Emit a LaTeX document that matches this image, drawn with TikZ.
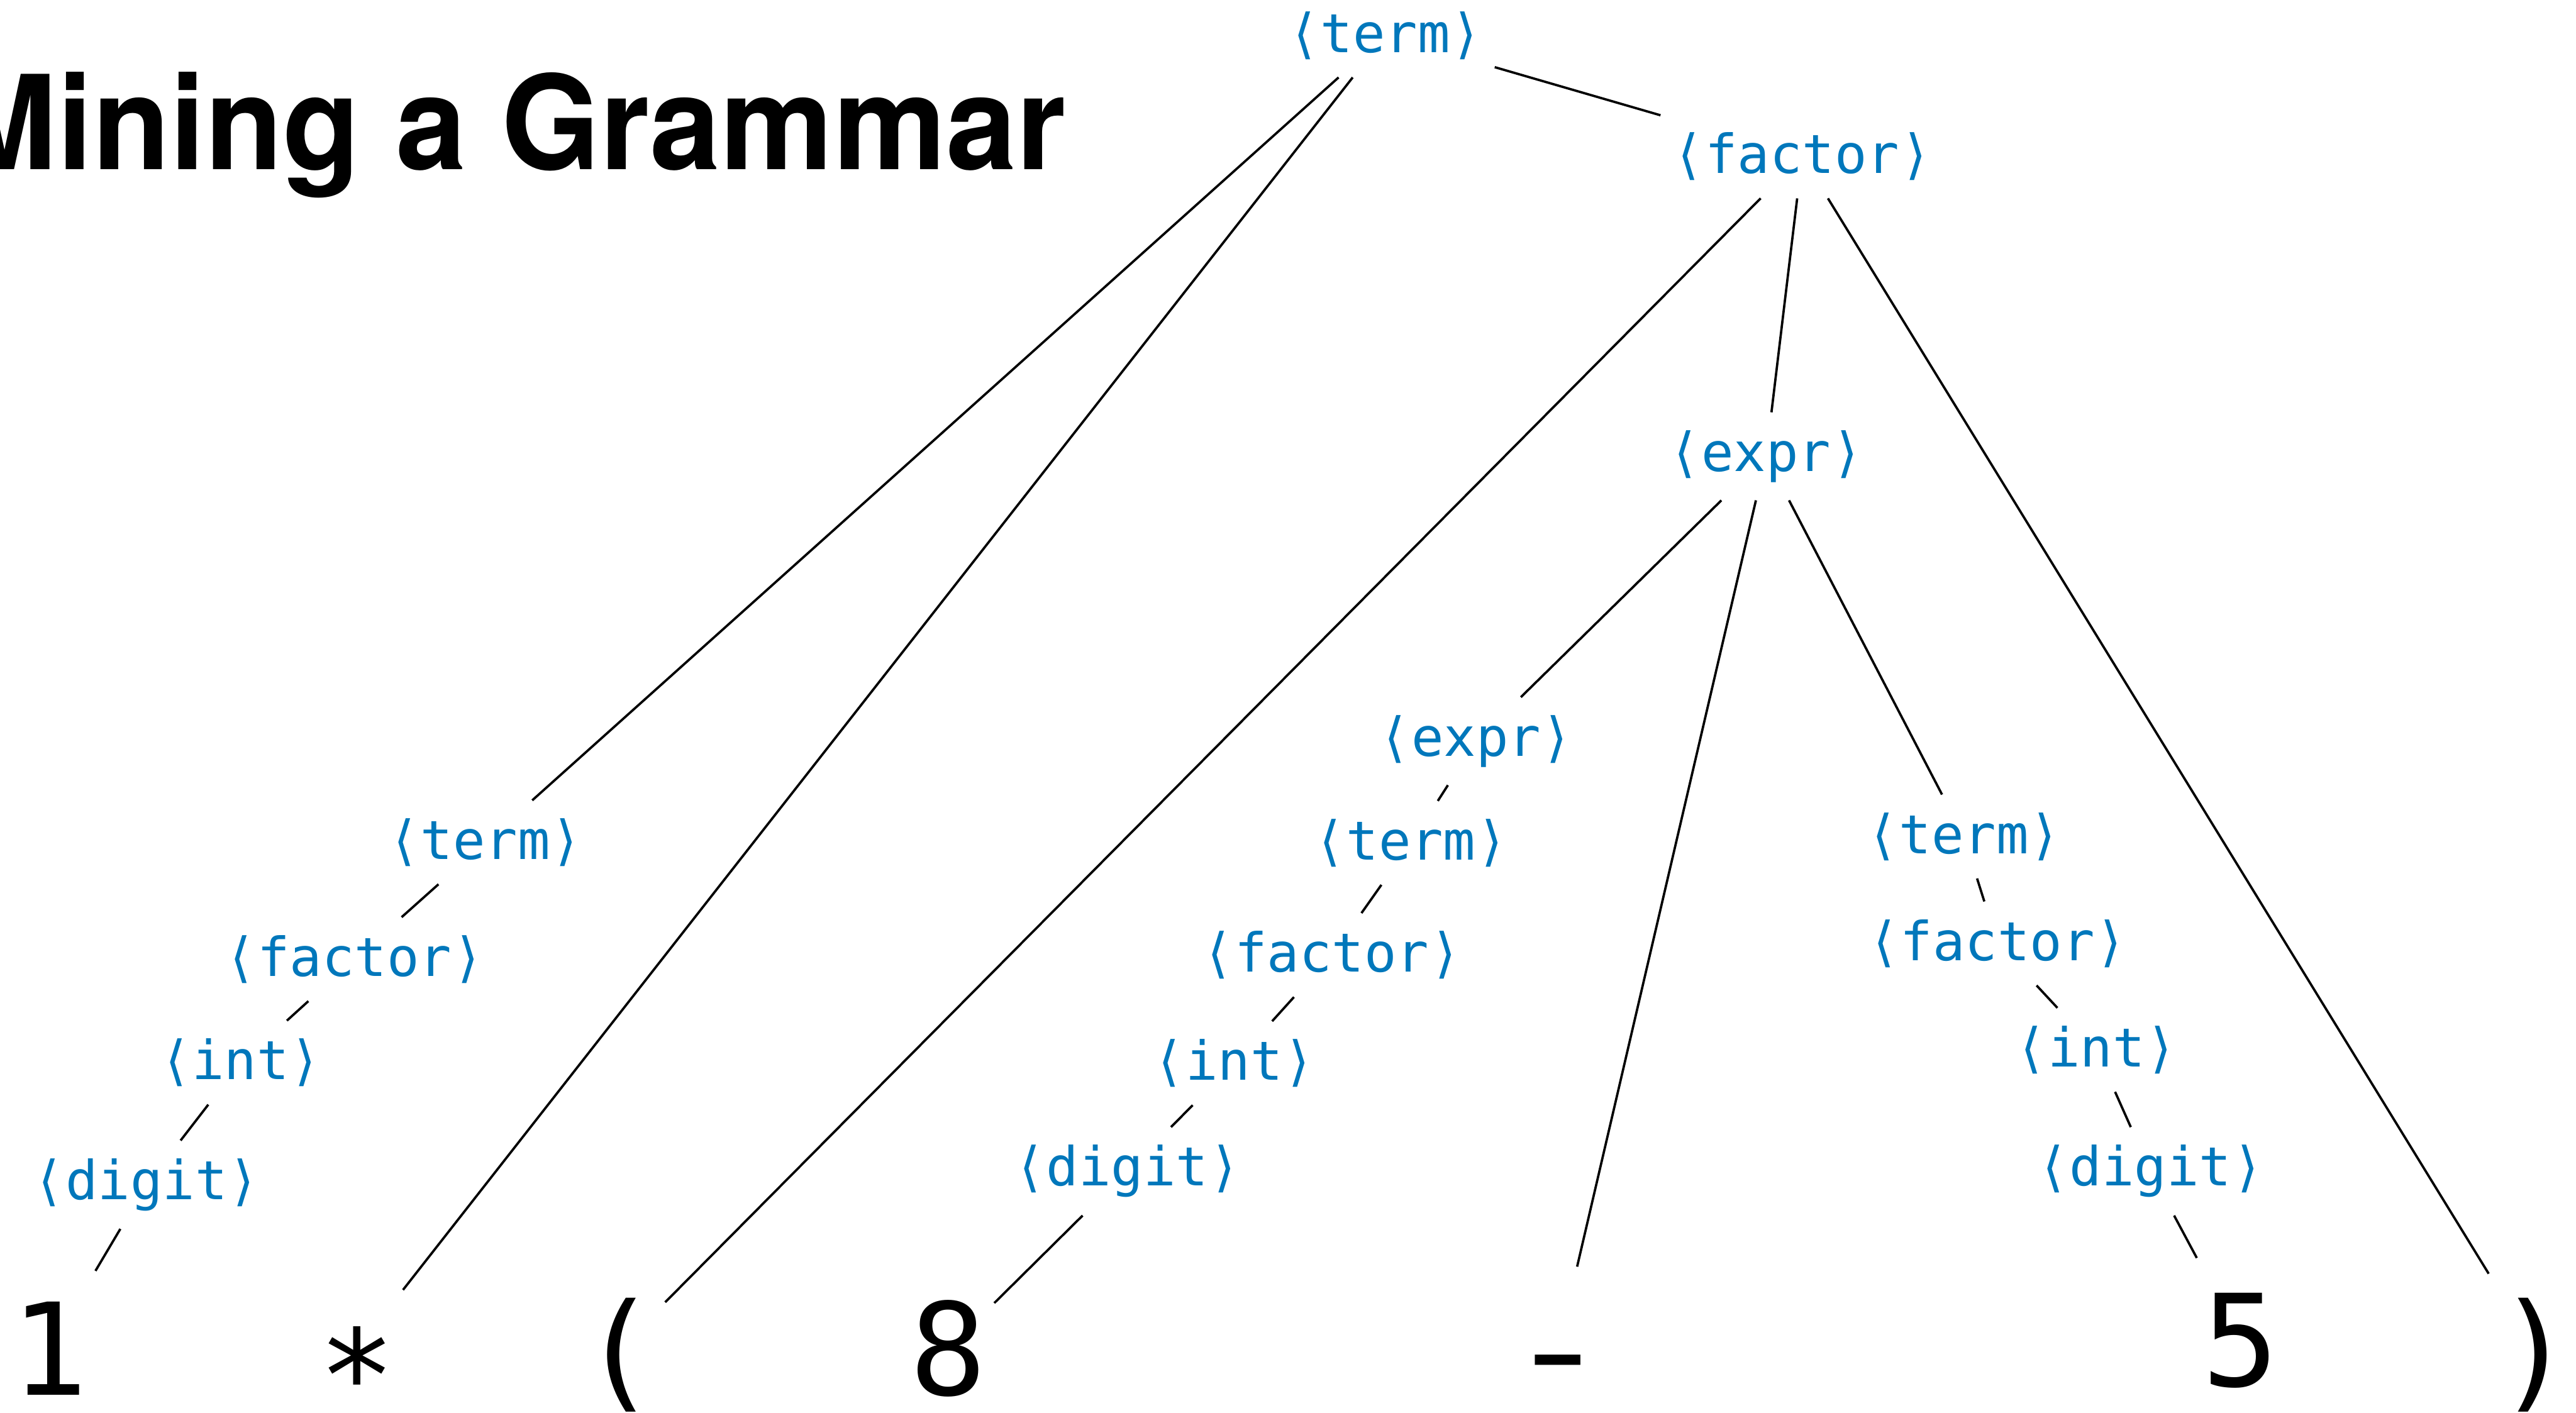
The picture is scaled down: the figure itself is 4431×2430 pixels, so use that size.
\documentclass[tikz,border=0pt]{standalone}
\usepackage{fontspec}
\newfontfamily\monofont{DejaVu Sans Mono}
\newfontfamily\headfont{TeX Gyre Heros}
\definecolor{ntblue}{RGB}{0,119,187}
\newcommand\nonterm[1]{\char"27E8\relax #1\char"27E9\relax}
\tikzset{
  nt/.style={font=\fontsize{18.5}{22}\selectfont\monofont, text=ntblue, inner xsep=4pt, inner ysep=6pt},
  tm/.style={font=\fontsize{44}{50}\selectfont\monofont, text=black, text height=42pt, text depth=10pt, inner xsep=2.4pt, inner ysep=2pt, anchor=base},
  edge/.style={draw=black, line width=0.8pt}
}
\begin{document}
\begin{tikzpicture}[x=0.2pt, y=-0.2pt]
\useasboundingbox (0,0) rectangle (4431,2430);
% title
\node[anchor=base east, inner sep=0pt, font=\fontsize{45}{50}\selectfont\headfont\bfseries] (title) at (1835,291) {\scalebox{0.97}[1]{Mining a Grammar}};
% nonterminals
\node[nt] (t1) at (2383,61) {\nonterm{term}};
\node[nt] (f1) at (3100,269) {\nonterm{factor}};
\node[nt] (e1) at (3038,785) {\nonterm{expr}};
\node[nt] (e2) at (2539,1275) {\nonterm{expr}};
\node[nt] (t2) at (2427,1450) {\nonterm{term}};
\node[nt] (f2) at (2291,1643) {\nonterm{factor}};
\node[nt] (i2) at (2123,1829) {\nonterm{int}};
\node[nt] (d2) at (1939,2015) {\nonterm{digit}};
\node[nt] (t3) at (3378,1439) {\nonterm{term}};
\node[nt] (f3) at (3436,1623) {\nonterm{factor}};
\node[nt] (i3) at (3606,1806) {\nonterm{int}};
\node[nt] (d3) at (3699,2015) {\nonterm{digit}};
\node[nt] (t4) at (835,1449) {\nonterm{term}};
\node[nt] (f4) at (610,1650) {\nonterm{factor}};
\node[nt] (i4) at (414,1828) {\nonterm{int}};
\node[nt] (d4) at (252,2038) {\nonterm{digit}};
% terminals
\node[tm] (one) at (85,2400) {1};
\node[tm] (star) at (614,2400) {\raisebox{-9pt}{*}};
\node[tm] (lp) at (1065,2400) {(};
\node[tm] (eight) at (1631,2400) {8};
\node[tm] (minus) at (2680,2400) {\scalebox{1.4}[1]{-}};
\node[tm] (five) at (3854,2385) {5};
\node[tm] (rp) at (4360,2400) {)};
% edges
\draw[edge] (t1) -- (t4);
\draw[edge] (t1) -- (star);
\draw[edge] (t1) -- (f1);
\draw[edge] (f1) -- (lp);
\draw[edge] (f1) -- (e1);
\draw[edge] (f1) -- (rp);
\draw[edge] (e1) -- (e2);
\draw[edge] (e1) -- (minus);
\draw[edge] (e1) -- (t3);
\draw[edge] (e2) -- (t2);
\draw[edge] (t2) -- (f2);
\draw[edge] (f2) -- (i2);
\draw[edge] (i2) -- (d2);
\draw[edge] (d2) -- (eight);
\draw[edge] (t3) -- (f3);
\draw[edge] (f3) -- (i3);
\draw[edge] (i3) -- (d3);
\draw[edge] (d3) -- (five);
\draw[edge] (t4) -- (f4);
\draw[edge] (f4) -- (i4);
\draw[edge] (i4) -- (d4);
\draw[edge] (d4) -- (one);
\end{tikzpicture}
\end{document}
